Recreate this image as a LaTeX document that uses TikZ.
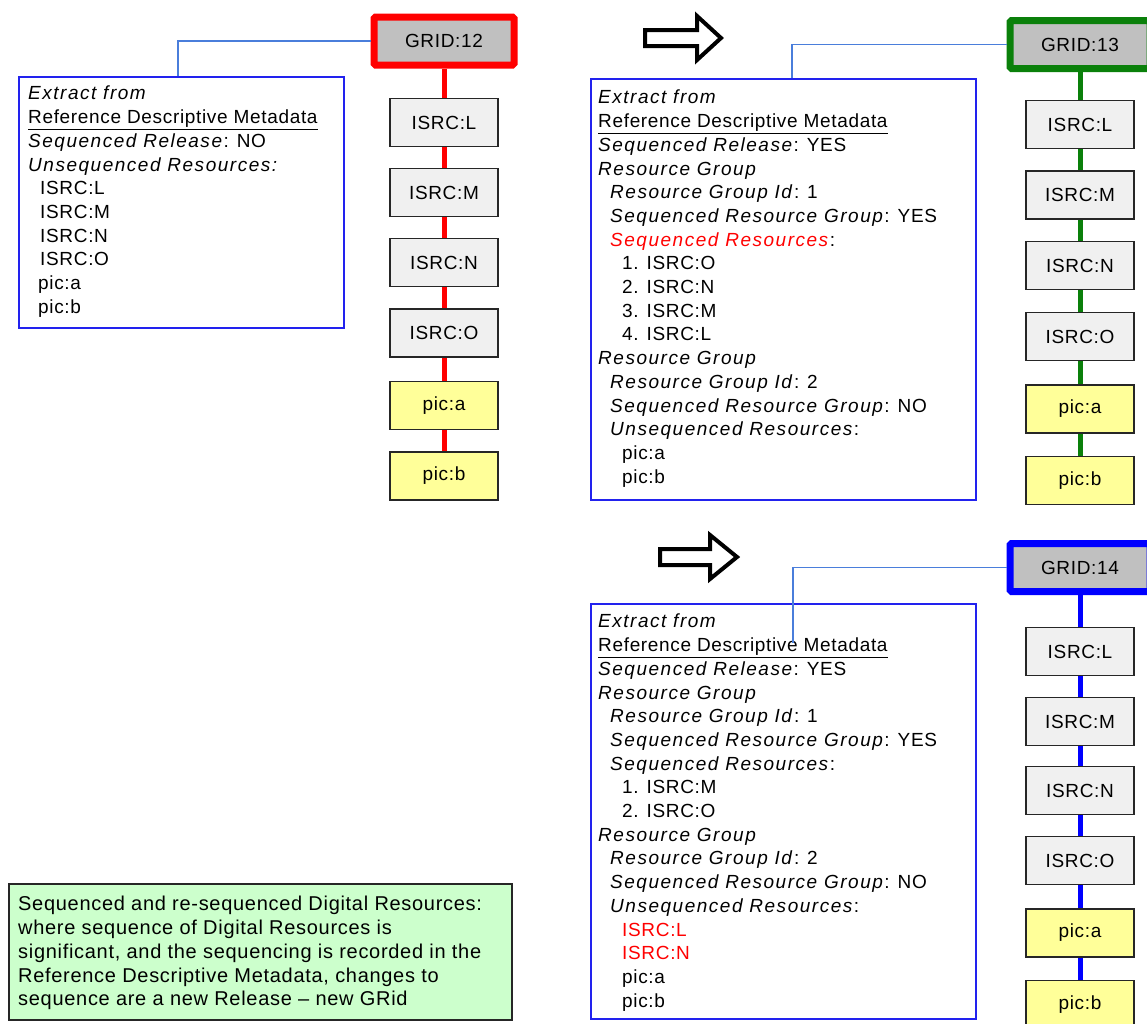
\documentclass[tikz,border=0pt]{standalone}
\usepackage{fontspec}
\setmainfont{Liberation Sans}[
  UprightFeatures={LetterSpace=3.5},
  ItalicFeatures={LetterSpace=8}]

\definecolor{gridgray}{HTML}{C0C0C0}
\definecolor{isrcgray}{HTML}{F0F0F0}
\definecolor{picyellow}{HTML}{FFFF99}
\definecolor{notegreen}{HTML}{CCFFCC}
\definecolor{linkblue}{HTML}{4A7EDB}
\definecolor{boxblue}{HTML}{2222EE}
\definecolor{chainred}{HTML}{FF0000}
\definecolor{chaingreen}{HTML}{0A800A}
\definecolor{chainblue}{HTML}{0000FF}

% indentation steps inside the metadata extracts
\newcommand{\lvA}{\hspace*{12pt}}
\newcommand{\lvB}{\hspace*{24pt}}

\begin{document}
\begin{tikzpicture}[x=1pt,y=-1pt,
  gridbox/.style={draw=#1, line width=7pt, fill=gridgray, rounded corners=1.5pt,
    minimum width=140pt, minimum height=48pt, inner sep=0pt,
    font=\fontsize{19}{22}\selectfont\addfontfeature{LetterSpace=2}},
  isrcbox/.style={draw=black!85, line width=1.6pt, fill=isrcgray,
    minimum width=108pt, minimum height=48pt, inner sep=0pt,
    font=\fontsize{19}{22}\selectfont\addfontfeature{LetterSpace=2}},
  picbox/.style={isrcbox, fill=picyellow},
  chain/.style={draw=#1, line width=5pt},
  link/.style={draw=linkblue, line width=1.2pt},
  metabox/.style={draw=boxblue, line width=1.6pt, fill=white, inner sep=0pt, anchor=north west},
  notebox/.style={draw=black!85, line width=1.6pt, fill=notegreen, inner sep=0pt, anchor=north west},
  metatext/.style={anchor=north west, inner sep=0pt, align=left,
    font=\fontsize{19}{23.7}\selectfont},
  notetext/.style={anchor=north west, inner sep=0pt, align=left,
    font=\fontsize{20}{23.8}\selectfont\addfontfeature{LetterSpace=10}},
  blockarrow/.style={draw=black, line width=4pt, fill=white, line join=miter}
]
\useasboundingbox (0,0) rectangle (1147,1023);
\fill[white] (0,0) rectangle (1147,1023);
\clip (0,0) rectangle (1147,1023);

% ---------- release GRID:12 ----------
\node[metabox, minimum width=325pt, minimum height=251pt] (m1) at (18,76) {};
\node[metatext] (t1) at (28,86) {%
\textit{Extract from}\\
\underline{Reference Descriptive Metadata}\\
\textit{Sequenced Release}: NO\\
\textit{Unsequenced Resources:}\\
\lvA ISRC:L\\
\lvA ISRC:M\\
\lvA ISRC:N\\
\lvA ISRC:O\\
\hspace*{10pt}pic:a\\
\hspace*{10pt}pic:b};

\node[gridbox=chainred] (g12) at (444,41) {GRID:12};
\node[isrcbox] (a1) at (444,122.5) {ISRC:L};
\node[isrcbox] (a2) at (444,192.5) {ISRC:M};
\node[isrcbox] (a3) at (444,262.5) {ISRC:N};
\node[isrcbox] (a4) at (444,333) {ISRC:O};
\node[picbox]  (a5) at (444,405.5) {pic:a};
\node[picbox]  (a6) at (444,476) {pic:b};
\draw[chain=chainred] (g12.south) -- (a1.north);
\draw[chain=chainred] (a1.south) -- (a2.north);
\draw[chain=chainred] (a2.south) -- (a3.north);
\draw[chain=chainred] (a3.south) -- (a4.north);
\draw[chain=chainred] (a4.south) -- (a5.north);
\draw[chain=chainred] (a5.south) -- (a6.north);
\coordinate (k1) at (178,76);
\draw[link] (g12.west) -| (k1);

% ---------- release GRID:13 ----------
\draw[blockarrow] (645,30) -- (697,30) -- (697,16) -- (721,38) -- (697,60) -- (697,46) -- (645,46) -- cycle;

\node[metabox, minimum width=385pt, minimum height=421pt] (m2) at (590,78) {};
\node[metatext] (t2) at (598,90) {%
\textit{Extract from}\\
\underline{Reference Descriptive Metadata}\\
\textit{Sequenced Release}: YES\\
\textit{Resource Group}\\
\lvA\textit{Resource Group Id}: 1\\
\lvA\textit{Sequenced Resource Group}: YES\\
\lvA\textcolor{chainred}{\textit{Sequenced Resources}}:\\
\lvB 1. ISRC:O\\
\lvB 2. ISRC:N\\
\lvB 3. ISRC:M\\
\lvB 4. ISRC:L\\
\textit{Resource Group}\\
\lvA\textit{Resource Group Id}: 2\\
\lvA\textit{Sequenced Resource Group}: NO\\
\lvA\textit{Unsequenced Resources}:\\
\lvB pic:a\\
\lvB pic:b};

\node[gridbox=chaingreen] (g13) at (1080,44.5) {GRID:13};
\node[isrcbox] (b1) at (1080,124.5) {ISRC:L};
\node[isrcbox] (b2) at (1080,195) {ISRC:M};
\node[isrcbox] (b3) at (1080,265.5) {ISRC:N};
\node[isrcbox] (b4) at (1080,336.5) {ISRC:O};
\node[picbox]  (b5) at (1080,409) {pic:a};
\node[picbox]  (b6) at (1080,480.5) {pic:b};
\draw[chain=chaingreen] (g13.south) -- (b1.north);
\draw[chain=chaingreen] (b1.south) -- (b2.north);
\draw[chain=chaingreen] (b2.south) -- (b3.north);
\draw[chain=chaingreen] (b3.south) -- (b4.north);
\draw[chain=chaingreen] (b4.south) -- (b5.north);
\draw[chain=chaingreen] (b5.south) -- (b6.north);
\coordinate (k2) at (792,78);
\draw[link] (g13.west) -| (k2);

% ---------- release GRID:14 ----------
\draw[blockarrow] (660,549) -- (710,549) -- (710,535) -- (737,557) -- (710,579) -- (710,565) -- (660,565) -- cycle;

\node[metabox, minimum width=385pt, minimum height=415pt] (m3) at (590,603) {};
\node[metatext] (t3) at (598,614) {%
\textit{Extract from}\\
\underline{Reference Descriptive Metadata}\\
\textit{Sequenced Release}: YES\\
\textit{Resource Group}\\
\lvA\textit{Resource Group Id}: 1\\
\lvA\textit{Sequenced Resource Group}: YES\\
\lvA\textit{Sequenced Resources}:\\
\lvB 1. ISRC:M\\
\lvB 2. ISRC:O\\
\textit{Resource Group}\\
\lvA\textit{Resource Group Id}: 2\\
\lvA\textit{Sequenced Resource Group}: NO\\
\lvA\textit{Unsequenced Resources}:\\
\lvB\textcolor{chainred}{ISRC:L}\\
\lvB\textcolor{chainred}{ISRC:N}\\
\lvB pic:a\\
\lvB pic:b};

\node[gridbox=chainblue] (g14) at (1080,567.5) {GRID:14};
\node[isrcbox] (c1) at (1080,651.5) {ISRC:L};
\node[isrcbox] (c2) at (1080,721.5) {ISRC:M};
\node[isrcbox] (c3) at (1080,790.5) {ISRC:N};
\node[isrcbox] (c4) at (1080,860.5) {ISRC:O};
\node[picbox]  (c5) at (1080,933) {pic:a};
\node[picbox]  (c6) at (1080,1004.5) {pic:b};
\draw[chain=chainblue] (g14.south) -- (c1.north);
\draw[chain=chainblue] (c1.south) -- (c2.north);
\draw[chain=chainblue] (c2.south) -- (c3.north);
\draw[chain=chainblue] (c3.south) -- (c4.north);
\draw[chain=chainblue] (c4.south) -- (c5.north);
\draw[chain=chainblue] (c5.south) -- (c6.north);
\coordinate (k3) at (793,643);
\draw[link] (g14.west) -| (k3);

% ---------- explanatory note ----------
\node[notebox, minimum width=503pt, minimum height=136pt] (note) at (8,883) {};
\node[notetext] (tn) at (18,896) {%
Sequenced and re-sequenced Digital Resources:\\
where sequence of Digital Resources is\\
significant, and the sequencing is recorded in the\\
Reference Descriptive Metadata, changes to\\
sequence are a new Release -- new GRid};
\end{tikzpicture}
\end{document}
